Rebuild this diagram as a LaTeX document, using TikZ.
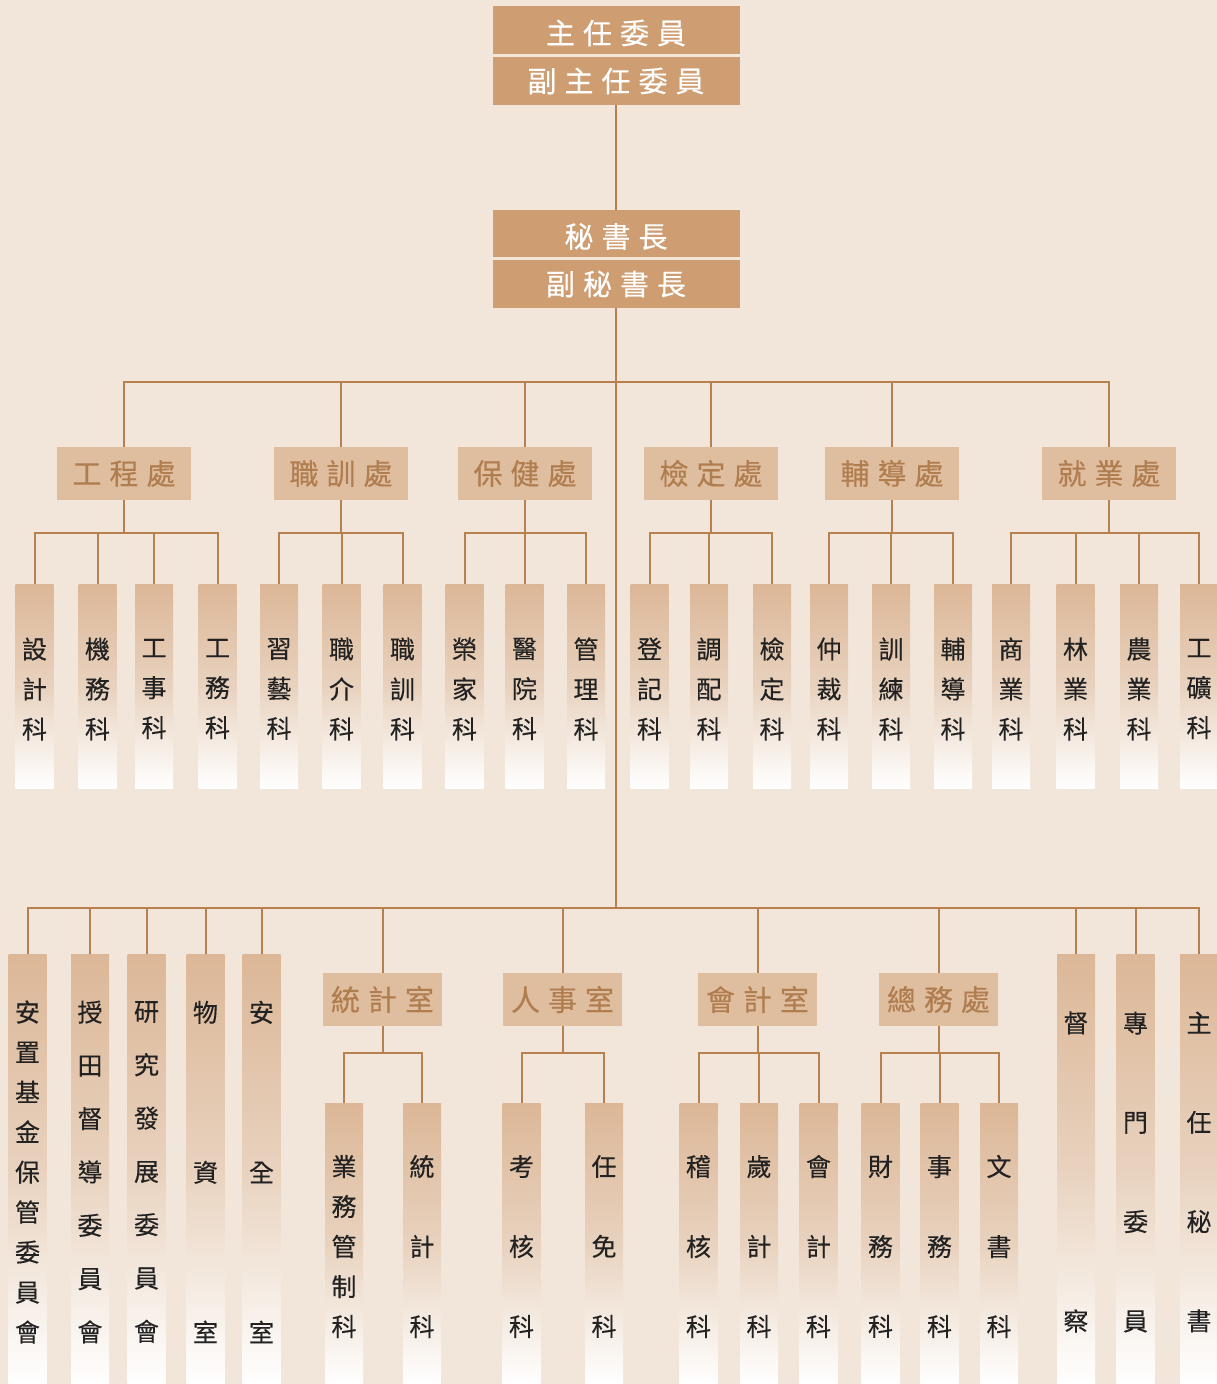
\documentclass[tikz,border=0pt]{standalone}
\usepackage{fontspec}
\newfontfamily\cjk[FakeBold=0.3]{Noto Sans CJK TC}
\definecolor{bg}{HTML}{F2E6DB}
\definecolor{topc}{HTML}{CF9D72}
\definecolor{deptc}{HTML}{DFBEA0}
\definecolor{depttxt}{HTML}{B07D4F}
\definecolor{linec}{HTML}{B6804F}
\definecolor{subtop}{HTML}{DCB797}
\definecolor{submid}{HTML}{E8D2BE}
\definecolor{subbot}{HTML}{FFFFFF}
\definecolor{txt}{HTML}{222222}
\newcommand\tk{\hspace{8pt}}
\begin{document}
\begin{tikzpicture}[x=1pt,y=-1pt,
  conn/.style={draw=linec,line width=2pt},
  headbox/.style={fill=topc,text=white,minimum width=247pt,minimum height=48pt,inner sep=0pt,font=\cjk\fontsize{29}{30}\selectfont},
  htxt/.style={text=white,inner sep=0pt,yshift=-3pt,font=\cjk\fontsize{29}{30}\selectfont},
  deptbox/.style={fill=deptc,text=depttxt,minimum width=134pt,minimum height=53pt,inner sep=0pt,font=\cjk\fontsize{29}{30}\selectfont},
  officebox/.style={deptbox,minimum width=119pt},
  subbox/.style={top color=subtop,bottom color=subbot,middle color=submid,minimum width=38pt,inner sep=0pt},
  vlab/.style={align=center,text=txt,inner sep=0pt,yshift=-3pt},
  vt/.style 2 args={label={[vlab,font=\cjk\fontsize{25}{#1}\selectfont]center:{#2}}},
  subA/.style={subbox,minimum height=204pt},
  tall/.style={subbox,minimum height=430pt},
  osub/.style={subbox,minimum height=281pt},
]
\fill[bg] (0,0) rectangle (1217,1384);
\useasboundingbox (0,0) rectangle (1217,1384);

% top boxes
\node[headbox,label={[htxt]center:{主\tk 任\tk 委\tk 員}}] (t1) at (616,30) {};
\node[headbox] (t2) at (616,81) {副\tk 主\tk 任\tk 委\tk 員};
\node[headbox,minimum height=47pt,label={[htxt]center:{秘\tk 書\tk 長}}] (s1) at (616,233.5) {};
\node[headbox] (s2) at (616,284) {副\tk 秘\tk 書\tk 長};

\coordinate (jA) at (616,382);
\coordinate (jB) at (616,908);
\coordinate (barA) at (0,533);
\coordinate (barB) at (0,1053);

% departments
\node[deptbox] (d1) at (124,473.5) {工\tk 程\tk 處};
\node[deptbox] (d2) at (341,473.5) {職\tk 訓\tk 處};
\node[deptbox] (d3) at (525,473.5) {保\tk 健\tk 處};
\node[deptbox] (d4) at (711,473.5) {檢\tk 定\tk 處};
\node[deptbox] (d5) at (892,473.5) {輔\tk 導\tk 處};
\node[deptbox] (d6) at (1109,473.5) {就\tk 業\tk 處};

% sections row 1
\node[subA,vt={40}{設\\計\\科}] (c11) at (34.5,686) {};
\node[subA,vt={40}{機\\務\\科}] (c12) at (97.5,686) {};
\node[subA,vt={40}{工\\事\\科}] (c13) at (154,686) {};
\node[subA,vt={40}{工\\務\\科}] (c14) at (217.5,686) {};
\node[subA,vt={40}{習\\藝\\科}] (c21) at (279,686) {};
\node[subA,vt={40}{職\\介\\科}] (c22) at (341.5,686) {};
\node[subA,vt={40}{職\\訓\\科}] (c23) at (402.5,686) {};
\node[subA,vt={40}{榮\\家\\科}] (c31) at (464.5,686) {};
\node[subA,vt={40}{醫\\院\\科}] (c32) at (524.5,686) {};
\node[subA,vt={40}{管\\理\\科}] (c33) at (586,686) {};
\node[subA,vt={40}{登\\記\\科}] (c41) at (649.5,686) {};
\node[subA,vt={40}{調\\配\\科}] (c42) at (709,686) {};
\node[subA,vt={40}{檢\\定\\科}] (c43) at (772,686) {};
\node[subA,vt={40}{仲\\裁\\科}] (c51) at (829,686) {};
\node[subA,vt={40}{訓\\練\\科}] (c52) at (891,686) {};
\node[subA,vt={40}{輔\\導\\科}] (c53) at (953,686) {};
\node[subA,vt={40}{商\\業\\科}] (c61) at (1011,686) {};
\node[subA,vt={40}{林\\業\\科}] (c62) at (1075.5,686) {};
\node[subA,vt={40}{農\\業\\科}] (c63) at (1139,686) {};
\node[subA,vt={40}{工\\礦\\科}] (c64) at (1199,686) {};

% bottom row
\node[tall,vt={40}{安\\置\\基\\金\\保\\管\\委\\員\\會}] (b1) at (27.5,1169) {};
\node[tall,vt={53.33}{授\\田\\督\\導\\委\\員\\會}] (b2) at (90,1169) {};
\node[tall,vt={53.33}{研\\究\\發\\展\\委\\員\\會}] (b3) at (146.5,1169) {};
\node[tall,vt={160}{物\\資\\室}] (b4) at (205.5,1169) {};
\node[tall,vt={160}{安\\全\\室}] (b5) at (261.5,1169) {};

\node[officebox] (o1) at (382.5,999.5) {統\tk 計\tk 室};
\node[officebox] (o2) at (562.5,999.5) {人\tk 事\tk 室};
\node[officebox] (o3) at (757.5,999.5) {會\tk 計\tk 室};
\node[officebox] (o4) at (938.5,999.5) {總\tk 務\tk 處};

\node[osub,vt={40}{業\\務\\管\\制\\科}] (o11) at (344,1243.5) {};
\node[osub,vt={80}{統\\計\\科}] (o12) at (422,1243.5) {};
\node[osub,vt={80}{考\\核\\科}] (o21) at (521.5,1243.5) {};
\node[osub,vt={80}{任\\免\\科}] (o22) at (604,1243.5) {};
\node[osub,vt={80}{稽\\核\\科}] (o31) at (698.5,1243.5) {};
\node[osub,vt={80}{歲\\計\\科}] (o32) at (759,1243.5) {};
\node[osub,vt={80}{會\\計\\科}] (o33) at (818.5,1243.5) {};
\node[osub,vt={80}{財\\務\\科}] (o41) at (880.5,1243.5) {};
\node[osub,vt={80}{事\\務\\科}] (o42) at (939.5,1243.5) {};
\node[osub,vt={80}{文\\書\\科}] (o43) at (999,1243.5) {};

\node[tall,vt={298}{督\\察}] (r1) at (1076,1169) {};
\node[tall,vt={99.3}{專\\門\\委\\員}] (r2) at (1135.5,1169) {};
\node[tall,vt={99.3}{主\\任\\秘\\書}] (r3) at (1199,1169) {};

% connectors
\draw[conn] (t2.south) -- (s1.north);
\draw[conn] (s2.south) -- (jB);
\foreach \d in {d1,d2,d3,d4,d5,d6} \draw[conn] (jA) -| (\d.north);

\draw[conn] (d1.south) -- (d1.south |- barA);
\foreach \c in {c11,c12,c13,c14} \draw[conn] (d1.south |- barA) -| (\c.north);
\draw[conn] (d2.south) -- (d2.south |- barA);
\foreach \c in {c21,c22,c23} \draw[conn] (d2.south |- barA) -| (\c.north);
\draw[conn] (d3.south) -- (d3.south |- barA);
\foreach \c in {c31,c32,c33} \draw[conn] (d3.south |- barA) -| (\c.north);
\draw[conn] (d4.south) -- (d4.south |- barA);
\foreach \c in {c41,c42,c43} \draw[conn] (d4.south |- barA) -| (\c.north);
\draw[conn] (d5.south) -- (d5.south |- barA);
\foreach \c in {c51,c52,c53} \draw[conn] (d5.south |- barA) -| (\c.north);
\draw[conn] (d6.south) -- (d6.south |- barA);
\foreach \c in {c61,c62,c63,c64} \draw[conn] (d6.south |- barA) -| (\c.north);

\foreach \b in {b1,b2,b3,b4,b5,o1,o2,o3,o4,r1,r2,r3} \draw[conn] (jB) -| (\b.north);

\draw[conn] (o1.south) -- (o1.south |- barB);
\foreach \c in {o11,o12} \draw[conn] (o1.south |- barB) -| (\c.north);
\draw[conn] (o2.south) -- (o2.south |- barB);
\foreach \c in {o21,o22} \draw[conn] (o2.south |- barB) -| (\c.north);
\draw[conn] (o3.south) -- (o3.south |- barB);
\foreach \c in {o31,o32,o33} \draw[conn] (o3.south |- barB) -| (\c.north);
\draw[conn] (o4.south) -- (o4.south |- barB);
\foreach \c in {o41,o42,o43} \draw[conn] (o4.south |- barB) -| (\c.north);
\end{tikzpicture}
\end{document}
